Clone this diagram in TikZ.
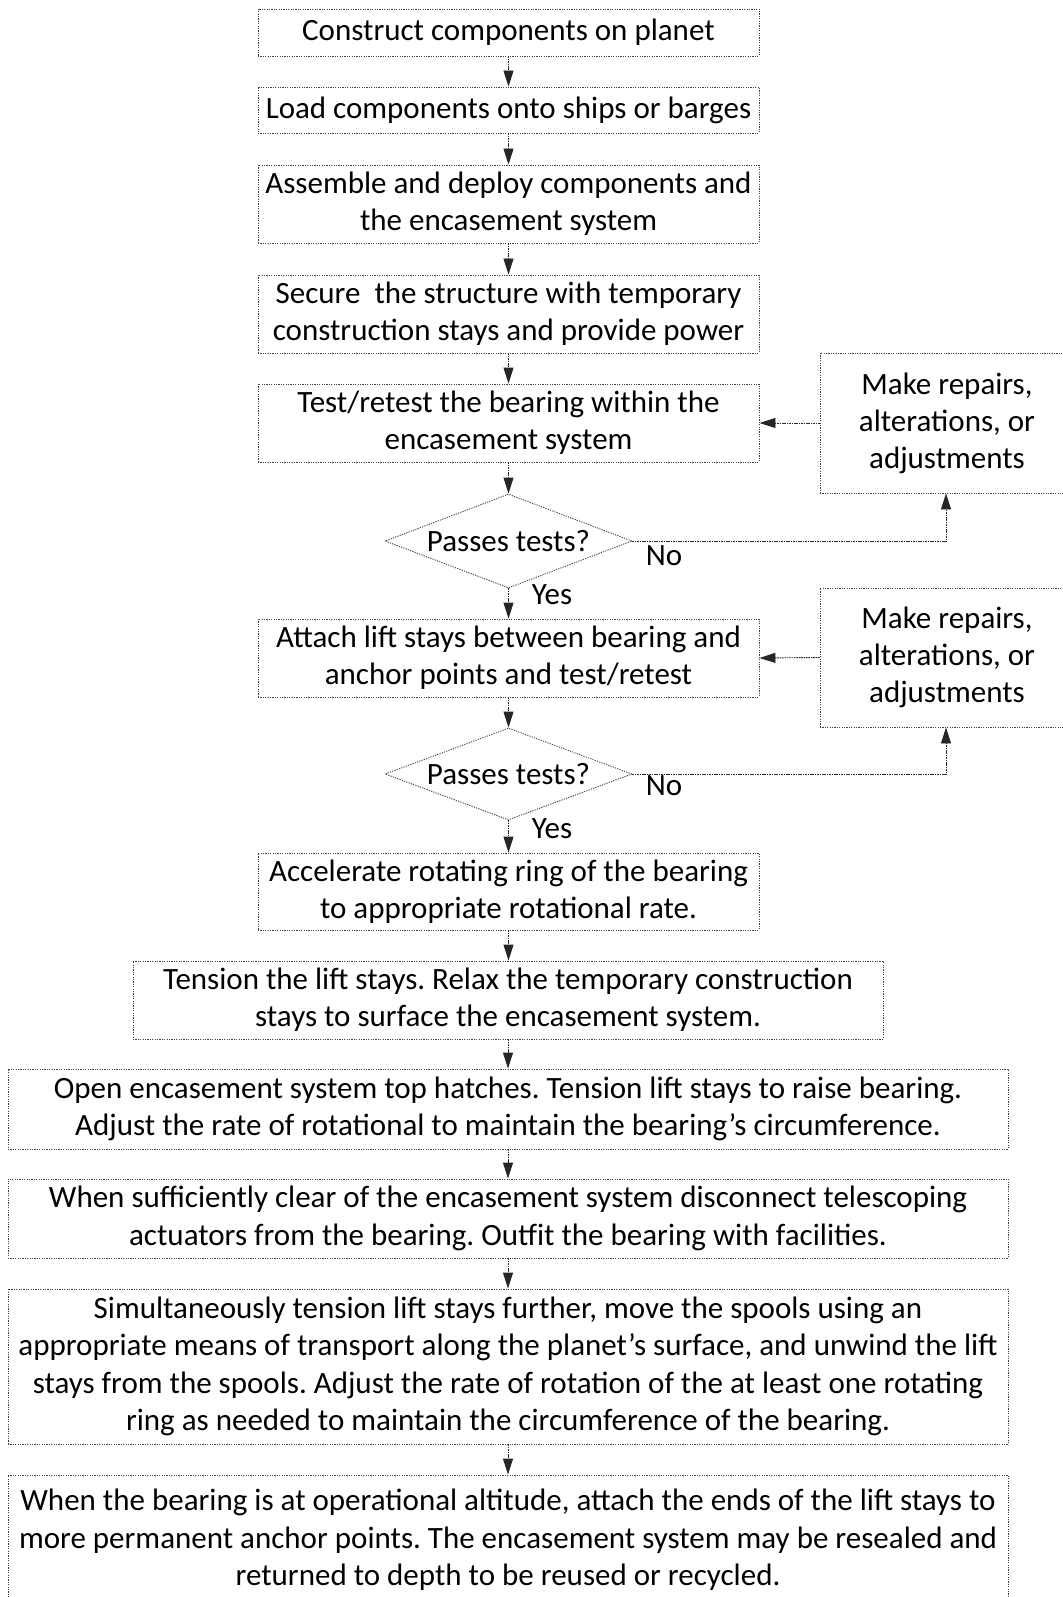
\documentclass[tikz,border=0pt]{standalone}
\usepackage{fontspec}
\setmainfont{Carlito}
\usetikzlibrary{shapes.geometric,arrows.meta}
\frenchspacing
\tikzset{
  stepbox/.style={draw=black!75, line width=0.9pt, dash pattern=on 1.2pt off 1.2pt,
    rectangle, align=center, inner sep=1pt,
    font=\frenchspacing\fontsize{31}{37}\selectfont},
  widebox/.style={stepbox, font=\frenchspacing\fontsize{31}{37.3}\selectfont},
  decide/.style={draw=black!75, line width=0.9pt, dash pattern=on 1.2pt off 1.2pt,
    diamond, shape aspect=2.6, inner sep=0pt, align=center,
    font=\fontsize{31}{34}\selectfont},
  flow/.style={draw=black!85, line width=0.9pt, dash pattern=on 1.6pt off 0.8pt,
    -{Triangle[length=16pt,width=10pt,sep=0pt]}},
  lbl/.style={font=\fontsize{31}{34}\selectfont, inner sep=0pt}
}
\begin{document}
\begin{tikzpicture}[x=1pt,y=-1pt]
\useasboundingbox (0,0) rectangle (1062,1597);
\node[stepbox, minimum width=501pt, minimum height=47pt] (b1) at (508.5,32.5) {Construct components on planet};
\node[stepbox, minimum width=501pt, minimum height=46pt] (b2) at (508.5,110) {Load components onto ships or barges};
\node[stepbox, minimum width=501pt, minimum height=78pt] (b3) at (508.5,204) {Assemble and deploy components and\\the encasement system};
\node[stepbox, minimum width=501pt, minimum height=78pt] (b4) at (508.5,314) {Secure\ \ the structure with temporary\\construction stays and provide power};
\node[stepbox, minimum width=501pt, minimum height=78pt] (b5) at (508.5,423) {Test/retest the bearing within the\\encasement system};
\node[stepbox, minimum width=254pt, minimum height=140pt] (r1) at (947,423) {Make repairs,\\alterations, or\\adjustments};
\node[decide, minimum width=247pt, minimum height=94pt] (d1) at (508.5,541) {Passes tests?};
\node[lbl] (no1) at (664,556) {No};
\node[lbl] (yes1) at (552,595) {Yes};
\node[stepbox, minimum width=501pt, minimum height=78pt] (b6) at (508.5,658) {Attach lift stays between bearing and\\anchor points and test/retest};
\node[stepbox, minimum width=254pt, minimum height=139pt] (r2) at (947,657.5) {Make repairs,\\alterations, or\\adjustments};
\node[decide, minimum width=247pt, minimum height=92pt] (d2) at (508.5,774) {Passes tests?};
\node[lbl] (no2) at (664,786) {No};
\node[lbl] (yes2) at (552,829) {Yes};
\node[stepbox, minimum width=501pt, minimum height=77pt] (b7) at (508.5,891.5) {Accelerate rotating ring of the bearing\\to appropriate rotational rate.};
\node[stepbox, minimum width=750pt, minimum height=78pt] (b8) at (508,1000) {Tension the lift stays. Relax the temporary construction\\stays to surface the encasement system.};
\node[widebox, minimum width=1000pt, minimum height=80pt] (b9) at (508,1109) {Open encasement system top hatches. Tension lift stays to raise bearing.\\Adjust the rate of rotational to maintain the bearing’s circumference.};
\node[widebox, minimum width=1000pt, minimum height=79pt] (b10) at (508,1218.5) {When sufficiently clear of the encasement system disconnect telescoping\\actuators from the bearing. Outfit the bearing with facilities.};
\node[widebox, minimum width=1000pt, minimum height=155pt] (b11) at (508,1366.5) {Simultaneously tension lift stays further, move the spools using an\\appropriate means of transport along the planet’s surface, and unwind the lift\\stays from the spools. Adjust the rate of rotation of the at least one rotating\\ring as needed to maintain the circumference of the bearing.};
\node[widebox, minimum width=1000pt, minimum height=130pt] (b12) at (508,1540) {When the bearing is at operational altitude, attach the ends of the lift stays to\\more permanent anchor points. The encasement system may be resealed and\\returned to depth to be reused or recycled.};
\coordinate (c1) at (946,541);
\coordinate (c2) at (946,774);
\draw[flow] (b1) -- (b2);
\draw[flow] (b2) -- (b3);
\draw[flow] (b3) -- (b4);
\draw[flow] (b4) -- (b5);
\draw[flow] (b5) -- (d1);
\draw[flow] (d1) -- (b6);
\draw[flow] (b6) -- (d2);
\draw[flow] (d2) -- (b7);
\draw[flow] (b7.south) -- (b8.north -| b7.south);
\draw[flow] (b8.south) -- (b9.north -| b8.south);
\draw[flow] (b9) -- (b10);
\draw[flow] (b10) -- (b11);
\draw[flow] (b11) -- (b12);
\draw[flow] (d1.east) -- (c1) -- (r1.south -| c1);
\draw[flow] (d2.east) -- (c2) -- (r2.south -| c2);
\draw[flow] (r1.west) -- (b5.east);
\draw[flow] (r2.west) -- (b6.east);
\end{tikzpicture}
\end{document}
